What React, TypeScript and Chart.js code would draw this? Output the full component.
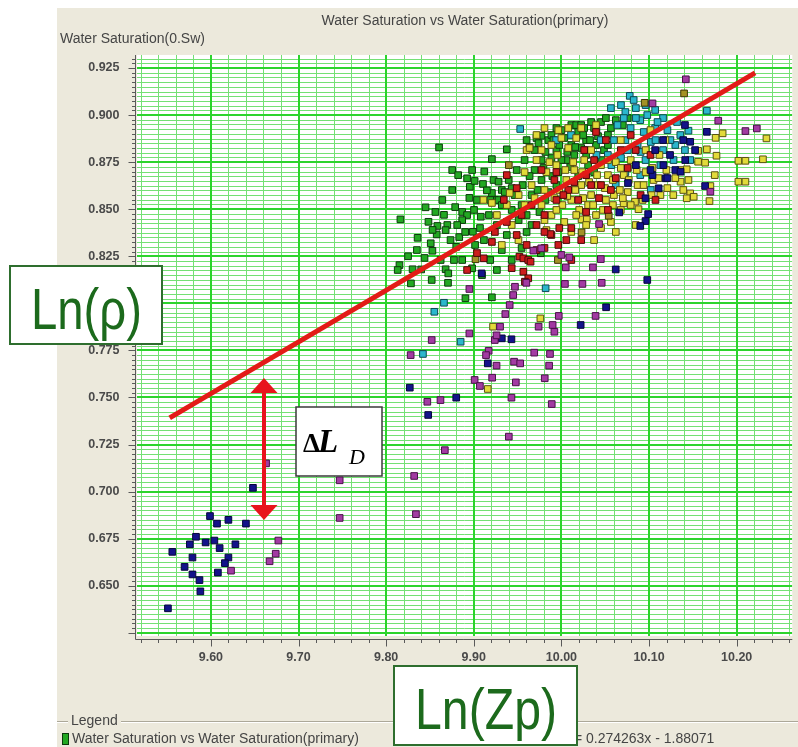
import React, { useEffect, useRef } from 'react';
import { Chart, registerables } from 'chart.js';

Chart.register(...registerables);

const W = 798;
const H = 747;

// Axis ranges and ticks
const X_MIN = 9.5157;
const X_MAX = 10.2635;
const Y_MIN = 0.6233;
const Y_MAX = 0.9319;
const X_MINOR_STEP = 0.02;
const Y_MINOR_STEP = 0.0025;
const xTickValues = [9.6, 9.7, 9.8, 9.9, 10.0, 10.1, 10.2];
const xTickLabels = ['9.60', '9.70', '9.80', '9.90', '10.00', '10.10', '10.20'];
const yTickValues = [0.65, 0.675, 0.7, 0.725, 0.75, 0.775, 0.8, 0.825, 0.85, 0.875, 0.9, 0.925];
const yTickLabels = ['0.650', '0.675', '0.700', '0.725', '0.750', '0.775', '0.800', '0.825', '0.850', '0.875', '0.900', '0.925'];

const chartTitle = 'Water Saturation vs Water Saturation(primary)';
const yAxisTitle = 'Water Saturation(0.Sw)';
const legendTitle = 'Legend';
const legendEntry = 'Water Saturation vs Water Saturation(primary)';
const equationText = 'y = 0.274263x - 1.88071';

// Trend line end points
const trendX = [9.553, 10.221];
const trendY = [0.7392, 0.9224];

// Annotation arrow (ΔL_D)
const arrowX = 9.6605;
const arrowTop = 0.7603;
const arrowBottom = 0.6849;

type P = [number, number];

const greenPts: P[] = [
  [9.9603, 0.8867], [9.9694, 0.8814], [9.9773, 0.8890], [9.9852, 0.8867], [9.9943, 0.8814], [10.0033, 0.8878],
  [10.0113, 0.8947], [10.0192, 0.8910], [10.0282, 0.8867], [10.0373, 0.8931], [10.0452, 0.8963], [10.0531, 0.8894],
  [10.0621, 0.8973], [9.9694, 0.8708], [9.9773, 0.8761], [9.9886, 0.8772], [9.9965, 0.8697], [10.0056, 0.8761],
  [10.0147, 0.8788], [10.0226, 0.8825], [10.0305, 0.8734], [10.0395, 0.8841], [10.0486, 0.8814], [9.9580, 0.8761],
  [9.9660, 0.8575], [9.9773, 0.8655], [9.9852, 0.8591], [9.9943, 0.8628], [9.9490, 0.8708], [9.9399, 0.8655],
  [9.9467, 0.8575], [9.9546, 0.8522], [9.9603, 0.8469], [9.9320, 0.8602], [9.9241, 0.8549], [9.9716, 0.8878],
  [9.9886, 0.8894], [10.0000, 0.8920], [10.0169, 0.8947], [10.0339, 0.8963], [10.0226, 0.8947], [10.0508, 0.8984],
  [9.9943, 0.8931], [10.0113, 0.8841],
  [9.8604, 0.8828], [9.8754, 0.8708], [9.8822, 0.8681], [9.8981, 0.8708], [9.8955, 0.8619], [9.8924, 0.8664],
  [9.9105, 0.8634], [9.9207, 0.8766], [9.9377, 0.8818], [9.9226, 0.8655], [9.9283, 0.8646], [9.8788, 0.8511],
  [9.8868, 0.8485], [9.8924, 0.8469], [9.9003, 0.8496], [9.8868, 0.8442], [9.8811, 0.8416], [9.8698, 0.8416],
  [9.8679, 0.8389], [9.8735, 0.8336], [9.8834, 0.8352], [9.8902, 0.8379], [9.8622, 0.8230], [9.8774, 0.8230],
  [9.8868, 0.8230], [9.8981, 0.8186], [9.9188, 0.8230], [9.9015, 0.8310], [9.9116, 0.8336], [9.9071, 0.8400],
  [9.9188, 0.8549], [9.9283, 0.8549], [9.9207, 0.8586], [9.9354, 0.8591], [9.9433, 0.8496], [9.9264, 0.8416],
  [9.9173, 0.8469], [9.9037, 0.8549], [9.8585, 0.8411], [9.8577, 0.8366], [9.8483, 0.8433], [9.8359, 0.8348],
  [9.8351, 0.8283], [9.8509, 0.8319], [9.8528, 0.8279], [9.8163, 0.8446], [9.8152, 0.8203], [9.8132, 0.8177],
  [9.8283, 0.8106], [9.8302, 0.8181], [9.8520, 0.8124], [9.8679, 0.8181], [9.8709, 0.8159], [9.8706, 0.8109],
  [9.8905, 0.8027], [9.9207, 0.8032], [9.9765, 0.8266], [9.9320, 0.8283], [9.9433, 0.8230], [9.9546, 0.8294],
  [9.9603, 0.8379], [9.9377, 0.8363], [9.8641, 0.8549], [9.8754, 0.8602], [9.8562, 0.8485], [9.8438, 0.8241],
  [9.9094, 0.8150], [9.9264, 0.8177],
  [9.9637, 0.8830], [9.9739, 0.8851], [9.9818, 0.8804], [9.9909, 0.8867], [9.9976, 0.8841], [10.0067, 0.8804],
  [10.0158, 0.8830], [10.0248, 0.8894], [10.0327, 0.8867], [10.0418, 0.8888], [10.0565, 0.8931], [9.9795, 0.8719],
  [9.9897, 0.8676], [10.0000, 0.8761], [10.0101, 0.8724], [10.0192, 0.8676], [10.0282, 0.8788], [10.0373, 0.8697],
  [10.0463, 0.8761], [9.9558, 0.8628], [9.9637, 0.8676], [9.9728, 0.8602], [9.9818, 0.8549], [9.9433, 0.8612],
  [9.9320, 0.8522], [9.9512, 0.8442], [9.9660, 0.8416], [9.9750, 0.8485], [10.0260, 0.8931], [10.0701, 0.8947],
  [10.0757, 0.8984], [10.0531, 0.8841],
  [9.8450, 0.8510], [9.8530, 0.8390], [9.8660, 0.8470], [9.8950, 0.8560], [9.9080, 0.8460], [9.9150, 0.8600],
  [9.8990, 0.8380], [9.8800, 0.8300], [9.8400, 0.8180], [9.8250, 0.8250], [9.9010, 0.8650], [9.9120, 0.8700],
];

const yellowPts: P[] = [
  [10.176, 0.8879], [10.184, 0.8903], [10.234, 0.8876], [10.156, 0.8810], [10.166, 0.8818], [10.177, 0.8784],
  [10.202, 0.8757], [10.210, 0.8757], [10.230, 0.8765], [10.202, 0.8646], [10.210, 0.8646], [10.156, 0.8752],
  [10.164, 0.8747], [10.175, 0.8681], [10.143, 0.8712], [10.136, 0.8646], [10.145, 0.8655], [10.170, 0.8623],
  [10.147, 0.8584], [10.151, 0.8566], [10.143, 0.8558], [10.169, 0.8543], [10.084, 0.8540], [10.088, 0.8500],
  [10.071, 0.8531], [10.023, 0.8446], [10.029, 0.8446], [9.976, 0.7920], [9.922, 0.7876], [9.916, 0.7545],
  [9.911, 0.8549], [9.951, 0.8336],
  [9.9716, 0.8894], [9.9807, 0.8931], [9.9886, 0.8841], [10.0000, 0.8878], [10.0078, 0.8825], [10.0169, 0.8878],
  [10.0260, 0.8761], [10.0339, 0.8814], [10.0452, 0.8734], [10.0531, 0.8681], [10.0621, 0.8750], [10.0712, 0.8681],
  [10.0791, 0.8761], [10.0870, 0.8628], [10.0961, 0.8697], [10.1051, 0.8655], [10.1130, 0.8575], [10.1209, 0.8612],
  [10.1300, 0.8665], [10.1391, 0.8602], [9.9716, 0.8761], [9.9829, 0.8697], [9.9943, 0.8734], [10.0056, 0.8655],
  [10.0147, 0.8708], [10.0226, 0.8628], [10.0339, 0.8575], [10.0418, 0.8628], [10.0508, 0.8549], [10.0599, 0.8575],
  [10.0678, 0.8496], [10.0757, 0.8591], [9.9807, 0.8602], [9.9920, 0.8559], [10.0011, 0.8522], [10.0113, 0.8549],
  [10.0203, 0.8496], [10.0305, 0.8522], [10.0395, 0.8469], [10.0452, 0.8400], [10.0565, 0.8432], [10.0033, 0.8432],
  [9.9886, 0.8469], [9.9773, 0.8522], [9.9660, 0.8628], [9.9580, 0.8697], [9.9512, 0.8575], [9.9603, 0.8814],
  [10.0226, 0.8931], [10.0395, 0.8947], [10.0678, 0.8867], [10.1017, 0.8920], [10.1187, 0.8867], [9.9829, 0.8389],
  [10.0113, 0.8379], [10.0373, 0.8336], [10.0621, 0.8379], [10.0848, 0.8416], [9.9264, 0.8469], [9.9377, 0.8522],
  [9.9433, 0.8416], [9.9320, 0.8310], [9.9410, 0.8586], [9.9207, 0.8533], [9.9637, 0.8825], [9.9965, 0.8920],
  [10.0078, 0.8931],
  [9.9773, 0.8814], [9.9863, 0.8750], [9.9954, 0.8788], [10.0045, 0.8708], [10.0135, 0.8750], [10.0237, 0.8697],
  [10.0316, 0.8644], [10.0407, 0.8681], [10.0497, 0.8612], [10.0588, 0.8655], [10.0667, 0.8602], [10.0769, 0.8655],
  [10.0859, 0.8708], [10.0938, 0.8628], [10.1029, 0.8575], [10.1108, 0.8665], [10.1198, 0.8708], [10.1277, 0.8575],
  [10.1357, 0.8708], [9.9976, 0.8602], [10.0067, 0.8570], [10.0158, 0.8602], [10.0248, 0.8559], [10.0362, 0.8522],
  [10.0475, 0.8496], [10.0588, 0.8522], [10.0701, 0.8559], [10.0791, 0.8522], [10.0927, 0.8549], [10.1040, 0.8719],
  [10.1119, 0.8788], [10.0961, 0.8814], [10.0169, 0.8469], [10.0282, 0.8416], [9.9943, 0.8496], [9.9807, 0.8442],
  [9.9694, 0.8559], [9.9580, 0.8522], [10.0531, 0.8761], [10.0678, 0.8719],
];

const olivePts: P[] = [
  [10.140, 0.9115], [10.095, 0.9065], [9.996, 0.8230], [9.902, 0.8234], [9.940, 0.8734], [10.054, 0.8465], [10.023, 0.8377],
];

const redPts: P[] = [
  [9.9377, 0.8681], [9.9113, 0.8239], [9.9521, 0.8248], [9.9566, 0.8239], [9.9622, 0.8230], [9.9648, 0.8221],
  [9.9566, 0.8168], [9.9622, 0.8133], [9.9584, 0.8115], [9.9343, 0.8549], [9.9490, 0.8612], [9.9546, 0.8469],
  [9.9660, 0.8522], [9.9716, 0.8416], [9.9807, 0.8469], [9.9886, 0.8363], [9.9965, 0.8310], [10.0113, 0.8400],
  [10.0226, 0.8336], [9.9943, 0.8549], [10.0078, 0.8602], [10.0282, 0.8681], [10.0373, 0.8761], [10.0508, 0.8867],
  [10.0452, 0.8628], [10.0565, 0.8602], [10.0678, 0.8814], [10.0791, 0.8894], [10.0904, 0.8575], [10.0282, 0.8485],
  [9.9807, 0.8294], [10.0113, 0.8230], [9.9490, 0.8363], [9.9241, 0.8379], [9.9037, 0.8267], [9.9207, 0.8326],
  [9.8924, 0.8177], [9.9433, 0.8187], [10.0395, 0.8910], [9.9943, 0.8697], [10.1017, 0.8788], [10.1074, 0.8549],
  [10.0056, 0.8336], [9.9875, 0.8368],
  [9.9773, 0.8708], [9.9920, 0.8655], [10.0022, 0.8575], [10.0192, 0.8549], [10.0339, 0.8628], [10.0429, 0.8559],
  [10.0531, 0.8496], [10.0147, 0.8644], [9.9807, 0.8379], [9.9976, 0.8400], [10.0621, 0.8665], [10.0757, 0.8719],
  [10.0848, 0.8814], [10.0260, 0.8814], [9.9716, 0.8283], [9.9603, 0.8310], [9.9377, 0.8432],
];

const cyanPts: P[] = [
  [10.078, 0.9102], [10.166, 0.9023], [10.145, 0.8917], [9.953, 0.8926], [9.982, 0.8080], [9.885, 0.7796],
  [9.842, 0.7731], [9.866, 0.8003], [9.855, 0.7955],
  [10.068, 0.9053], [10.073, 0.9016], [10.085, 0.9037], [10.090, 0.8973], [10.098, 0.9000], [10.107, 0.9027],
  [10.116, 0.8984], [10.064, 0.8947], [10.079, 0.8931], [10.094, 0.8910], [10.107, 0.8931], [10.121, 0.8920],
  [10.132, 0.8963], [10.060, 0.8867], [10.073, 0.8867], [10.087, 0.8841], [10.102, 0.8857], [10.116, 0.8814],
  [10.130, 0.8841], [10.141, 0.8814], [10.053, 0.8788], [10.068, 0.8772], [10.096, 0.8761], [10.113, 0.8734],
  [10.128, 0.8761], [10.085, 0.8984], [10.040, 0.8920], [10.045, 0.8867], [10.028, 0.8814], [10.040, 0.8788],
  [10.057, 0.8734], [10.073, 0.8697], [10.090, 0.8681], [10.147, 0.8761], [9.994, 0.8867], [10.011, 0.8894],
  [10.102, 0.8602], [10.062, 0.8628],
  [10.0565, 0.9037], [10.0712, 0.8984], [10.0825, 0.9080], [10.0961, 0.9053], [10.1097, 0.8963], [10.1244, 0.8867],
  [10.1357, 0.8894], [10.1074, 0.8867], [10.0904, 0.8804], [10.0757, 0.8814],
];

const bluePts: P[] = [
  [9.556, 0.668], [9.570, 0.660], [9.579, 0.665], [9.576, 0.672], [9.583, 0.676], [9.594, 0.673], [9.604, 0.674],
  [9.610, 0.670], [9.599, 0.687], [9.607, 0.683], [9.620, 0.685], [9.628, 0.672], [9.620, 0.665], [9.616, 0.662],
  [9.608, 0.657], [9.579, 0.656], [9.587, 0.653], [9.588, 0.647], [9.640, 0.683], [9.648, 0.702], [9.551, 0.638],
  [9.827, 0.7552], [9.848, 0.7407], [9.880, 0.7499], [9.916, 0.7681], [9.932, 0.7814], [9.943, 0.7809],
  [9.909, 0.8159], [10.062, 0.8180], [10.098, 0.8124], [10.051, 0.7979], [10.022, 0.7885], [10.066, 0.8483],
  [10.099, 0.8474], [10.096, 0.8437], [10.090, 0.8411], [10.096, 0.8558], [10.111, 0.8611], [10.119, 0.8664],
  [10.130, 0.8708], [10.136, 0.8699], [10.104, 0.8681], [10.166, 0.8911], [10.139, 0.8867], [10.147, 0.8858],
  [10.164, 0.8623], [10.085, 0.8734], [10.107, 0.8814], [10.124, 0.8788], [10.141, 0.8947], [10.076, 0.8639],
  [10.116, 0.8867], [10.1017, 0.8708], [10.1164, 0.8734], [10.1413, 0.8761], [10.1526, 0.8814], [10.1209, 0.8665],
];

const purplePts: P[] = [
  [9.677, 0.674], [9.674, 0.667], [9.667, 0.663], [9.623, 0.658], [9.747, 0.706], [9.747, 0.686], [9.663, 0.715],
  [9.828, 0.7725], [9.852, 0.7805], [9.895, 0.7840], [9.847, 0.7477], [9.862, 0.7486], [9.867, 0.7220],
  [9.832, 0.7083], [9.834, 0.6880], [9.924, 0.7805], [9.926, 0.7830], [9.917, 0.7748], [9.914, 0.7725],
  [9.926, 0.7669], [9.946, 0.7690], [9.953, 0.7681], [9.969, 0.7738], [9.987, 0.7731], [9.986, 0.7669],
  [9.992, 0.7849], [9.901, 0.7593], [9.907, 0.7561], [9.921, 0.7605], [9.948, 0.7580], [9.981, 0.7602],
  [9.943, 0.7499], [9.989, 0.7465], [9.940, 0.7292],
  [10.045, 0.8235], [10.036, 0.8191], [10.046, 0.8109], [10.039, 0.7933], [9.997, 0.7933], [10.024, 0.8103],
  [10.004, 0.8103], [10.009, 0.8244], [10.000, 0.8257], [10.005, 0.8191], [9.974, 0.7876], [9.990, 0.7885],
  [9.977, 0.8292], [9.968, 0.8280], [9.960, 0.8109], [9.947, 0.8088], [9.945, 0.8044], [9.941, 0.7991],
  [9.936, 0.7943], [9.930, 0.7876], [9.895, 0.8076], [10.043, 0.8421], [10.170, 0.8593], [10.142, 0.9190],
  [10.104, 0.9062], [10.179, 0.8970], [10.210, 0.8915], [10.223, 0.8929],
];

const COLORS = {
  green: ['#23a823', '#0c3a0c'],
  yellow: ['#e2da3a', '#5a5212'],
  olive: ['#a49226', '#3e3608'],
  red: ['#cc1d1d', '#470808'],
  cyan: ['#2bb7cc', '#0b4852'],
  blue: ['#13138a', '#06063a'],
  purple: ['#a23ba2', '#4a104a'],
};

function pointSet(label: string, pts: P[], c: string[], order: number) {
  return {
    type: 'scatter' as const,
    label,
    data: pts.map(([x, y]) => ({ x, y })),
    pointStyle: 'rect',
    pointRadius: 4.7,
    backgroundColor: c[0],
    borderColor: c[1],
    borderWidth: 1,
    order,
  };
}

const panelPlugin = {
  id: 'panelPlugin',
  beforeDraw(chart: any) {
    const { ctx, chartArea: a, scales } = chart;
    const xs = scales.x, ys = scales.y;
    ctx.save();
    ctx.fillStyle = '#ffffff';
    ctx.fillRect(0, 0, W, H);
    ctx.fillStyle = '#ece9dc';
    ctx.fillRect(57, 8, W - 57, H - 8);
    ctx.fillStyle = '#ffffff';
    ctx.fillRect(a.left, a.top, a.right - a.left, a.bottom - a.top);

    // grid
    ctx.save();
    ctx.beginPath();
    ctx.rect(a.left, a.top, a.right - a.left, a.bottom - a.top);
    ctx.clip();
    const drawGrid = (major: boolean) => {
      ctx.strokeStyle = major ? '#2cd42c' : '#74e074';
      ctx.lineWidth = major ? 2 : 1;
      ctx.beginPath();
      for (let k = Math.ceil(X_MIN / X_MINOR_STEP); k * X_MINOR_STEP <= X_MAX; k++) {
        if ((k % 5 === 0) !== major) continue;
        const px = Math.round(xs.getPixelForValue(k * X_MINOR_STEP)) + (major ? 0 : 0.5);
        ctx.moveTo(px, a.top);
        ctx.lineTo(px, a.bottom);
      }
      for (let k = Math.ceil(Y_MIN / Y_MINOR_STEP); k * Y_MINOR_STEP <= Y_MAX; k++) {
        if ((k % 10 === 0) !== major) continue;
        const py = Math.round(ys.getPixelForValue(k * Y_MINOR_STEP)) + (major ? 0 : 0.5);
        ctx.moveTo(a.left, py);
        ctx.lineTo(a.right, py);
      }
      ctx.stroke();
    };
    drawGrid(false);
    drawGrid(true);
    ctx.restore();

    // axes
    const axX = a.left - 1.5;
    const axY = a.bottom + 3.5;
    ctx.strokeStyle = '#5a5a5a';
    ctx.lineWidth = 1;
    ctx.beginPath();
    ctx.moveTo(axX, a.top);
    ctx.lineTo(axX, axY);
    ctx.lineTo(a.right, axY);
    for (let k = Math.ceil(Y_MIN / Y_MINOR_STEP); k * Y_MINOR_STEP <= Y_MAX; k++) {
      const py = Math.round(ys.getPixelForValue(k * Y_MINOR_STEP)) + 0.5;
      const len = k % 10 === 0 ? 7 : 3.5;
      ctx.moveTo(axX - len, py);
      ctx.lineTo(axX, py);
    }
    for (let k = Math.ceil(X_MIN / X_MINOR_STEP); k * X_MINOR_STEP <= X_MAX; k++) {
      const px = Math.round(xs.getPixelForValue(k * X_MINOR_STEP)) + 0.5;
      const len = k % 5 === 0 ? 7 : 3.5;
      ctx.moveTo(px, axY);
      ctx.lineTo(px, axY + len);
    }
    ctx.stroke();

    // tick labels
    ctx.fillStyle = '#4a4a4a';
    ctx.font = 'bold 12.5px Arial';
    ctx.textAlign = 'right';
    ctx.textBaseline = 'middle';
    yTickValues.forEach((v, i) => {
      ctx.fillText(yTickLabels[i], axX - 16, ys.getPixelForValue(v));
    });
    ctx.textAlign = 'center';
    xTickValues.forEach((v, i) => {
      ctx.fillText(xTickLabels[i], xs.getPixelForValue(v), axY + 18.5);
    });

    // titles
    ctx.fillStyle = '#454545';
    ctx.font = '14px Arial';
    ctx.textAlign = 'center';
    ctx.fillText(chartTitle, 465, 21);
    ctx.textAlign = 'left';
    ctx.fillText(yAxisTitle, 60, 39.5);

    // legend group box
    ctx.strokeStyle = '#aca899';
    ctx.beginPath();
    ctx.moveTo(57, 721.5);
    ctx.lineTo(68, 721.5);
    ctx.moveTo(121, 721.5);
    ctx.lineTo(W, 721.5);
    ctx.stroke();
    ctx.strokeStyle = '#ffffff';
    ctx.beginPath();
    ctx.moveTo(57, 722.5);
    ctx.lineTo(68, 722.5);
    ctx.moveTo(121, 722.5);
    ctx.lineTo(W, 722.5);
    ctx.stroke();
    ctx.fillStyle = '#454545';
    ctx.fillText(legendTitle, 71, 721);
    ctx.fillStyle = COLORS.green[0];
    ctx.fillRect(62, 733, 6, 11);
    ctx.strokeStyle = '#0c3a0c';
    ctx.strokeRect(62.5, 733.5, 6, 11);
    ctx.fillStyle = '#454545';
    ctx.fillText(legendEntry, 72, 739);
    ctx.fillText(equationText, 563, 739);
    ctx.restore();
  },
};

const overlayPlugin = {
  id: 'overlayPlugin',
  afterDraw(chart: any) {
    const { ctx, scales } = chart;
    const xs = scales.x, ys = scales.y;
    ctx.save();

    // red double arrow
    const ax = Math.round(xs.getPixelForValue(arrowX));
    const yt = ys.getPixelForValue(arrowTop);
    const yb = ys.getPixelForValue(arrowBottom);
    const hh = 15, hw = 13.5;
    ctx.strokeStyle = '#e8141c';
    ctx.fillStyle = '#e8141c';
    ctx.lineWidth = 4;
    ctx.beginPath();
    ctx.moveTo(ax, yt + hh - 2);
    ctx.lineTo(ax, yb - hh + 2);
    ctx.stroke();
    ctx.beginPath();
    ctx.moveTo(ax, yt);
    ctx.lineTo(ax - hw, yt + hh);
    ctx.lineTo(ax + hw, yt + hh);
    ctx.closePath();
    ctx.fill();
    ctx.beginPath();
    ctx.moveTo(ax, yb);
    ctx.lineTo(ax - hw, yb - hh);
    ctx.lineTo(ax + hw, yb - hh);
    ctx.closePath();
    ctx.fill();

    // ΔL_D box
    ctx.fillStyle = '#ffffff';
    ctx.fillRect(296, 407, 86, 69);
    ctx.strokeStyle = '#3a3a3a';
    ctx.lineWidth = 1.5;
    ctx.strokeRect(296, 407, 86, 69);
    ctx.fillStyle = '#000000';
    ctx.textAlign = 'left';
    ctx.textBaseline = 'alphabetic';
    ctx.font = 'bold 27px "Liberation Serif"';
    ctx.fillText('Δ', 303, 452);
    ctx.font = 'bold italic 33px "Liberation Serif"';
    ctx.fillText('L', 318, 452);
    ctx.font = 'italic 22px "Liberation Serif"';
    ctx.fillText('D', 349, 464);

    // Big labels
    const bigLabel = (text: string, bx: number, by: number, bw: number, bh: number, tx: number, tw: number, base: number) => {
      ctx.fillStyle = '#ffffff';
      ctx.fillRect(bx, by, bw, bh);
      ctx.strokeStyle = '#2e6e2e';
      ctx.lineWidth = 2;
      ctx.strokeRect(bx, by, bw, bh);
      ctx.font = '58px Arial';
      const m = ctx.measureText(text).width;
      ctx.save();
      ctx.translate(tx, base);
      ctx.scale(tw / m, 1);
      ctx.fillStyle = '#1c6a1c';
      ctx.fillText(text, 0, 0);
      ctx.restore();
    };
    bigLabel('Ln(ρ)', 10, 266, 152, 78, 31, 111, 329);
    bigLabel('Ln(Zp)', 394, 666, 183, 79, 415, 142, 729);

    ctx.restore();
  },
};

export default function App() {
  const ref = useRef<HTMLCanvasElement | null>(null);
  useEffect(() => {
    if (!ref.current) return;
    const chart = new Chart(ref.current, {
      type: 'scatter',
      data: {
        datasets: [
          {
            type: 'line',
            label: 'trend',
            data: trendX.map((x, i) => ({ x, y: trendY[i] })),
            borderColor: '#e31b17',
            borderWidth: 5,
            pointRadius: 0,
            showLine: true,
            fill: false,
            order: 0,
          } as any,
          pointSet('green', greenPts, COLORS.green, 7),
          pointSet('cyan', cyanPts, COLORS.cyan, 6),
          pointSet('yellow', yellowPts, COLORS.yellow, 5),
          pointSet('olive', olivePts, COLORS.olive, 4),
          pointSet('red', redPts, COLORS.red, 3),
          pointSet('blue', bluePts, COLORS.blue, 2),
          pointSet('purple', purplePts, COLORS.purple, 1),
        ],
      },
      options: {
        responsive: false,
        animation: false,
        devicePixelRatio: 1,
        events: [],
        layout: { padding: { left: 137, top: 55, right: 0, bottom: 111 } },
        scales: {
          x: { type: 'linear', min: X_MIN, max: X_MAX, display: false },
          y: { type: 'linear', min: Y_MIN, max: Y_MAX, display: false },
        },
        plugins: { legend: { display: false }, tooltip: { enabled: false } },
      },
      plugins: [panelPlugin, overlayPlugin],
    } as any);
    return () => chart.destroy();
  }, []);
  return (
    <div style={{ position: 'absolute', left: 0, top: 0, width: W, height: H }}>
      <canvas ref={ref} width={W} height={H} style={{ display: 'block' }} />
    </div>
  );
}
